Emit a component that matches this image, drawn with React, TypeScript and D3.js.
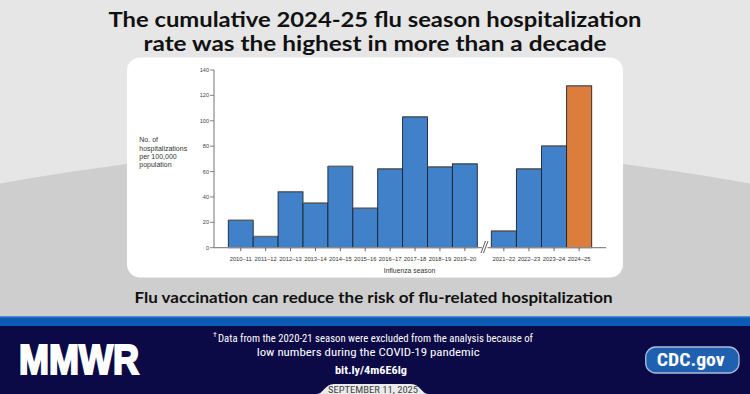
import React from "react";
import * as d3 from "d3";

const seasonsA = ["2010–11", "2011–12", "2012–13", "2013–14", "2014–15", "2015–16", "2016–17", "2017–18", "2018–19", "2019–20"];
const valuesA = [21.5, 8.7, 44, 35, 64, 31, 62, 103, 63.5, 66];
const seasonsB = ["2021–22", "2022–23", "2023–24", "2024–25"];
const valuesB = [13, 62, 80, 127.5];
const highlightSeason = "2024–25";
const yTicks = [0, 20, 40, 60, 80, 100, 120, 140];
const yLabelLines = ["No. of", "hospitalizations", "per 100,000", "population"];
const titleLines = ["The cumulative 2024-25 flu season hospitalization", "rate was the highest in more than a decade"];
const subtitle = "Flu vaccination can reduce the risk of flu-related hospitalization";
const footnoteLines = ["Data from the 2020-21 season were excluded from the analysis because of", "low numbers during the COVID-19 pandemic"];

const W = 750, H = 394;
const BLUE = "#4181c9";
const ORANGE = "#dc7d3b";

export default function App() {
  const y = d3.scaleLinear().domain([0, 140]).range([247.7, 70]);
  const xA = d3.scaleBand<string>().domain(seasonsA).range([228.3, 477.3]).paddingInner(0);
  const xB = d3.scaleBand<string>().domain(seasonsB).range([491.3, 591.7]).paddingInner(0);
  const bars = [
    ...seasonsA.map((s, i) => ({ s, v: valuesA[i], x: xA(s)!, w: xA.bandwidth() })),
    ...seasonsB.map((s, i) => ({ s, v: valuesB[i], x: xB(s)!, w: xB.bandwidth() })),
  ];
  const axisY = y(0);
  const axisX0 = 214;
  const axisX1 = 606;
  const breakX = 484.5;
  const sans = "'Liberation Sans', Arial, sans-serif";
  const head = "Lato, 'Noto Sans', sans-serif";
  const narrow = "'Liberation Sans Narrow', 'Roboto Condensed', Roboto, sans-serif";

  return (
    <svg width={W} height={H} viewBox={`0 0 ${W} ${H}`} style={{ position: "absolute", left: 0, top: 0, display: "block" }}>
      <defs>
        <clipPath id="bgclip"><rect x={0} y={0} width={W} height={317} /></clipPath>
      </defs>
      {/* background */}
      <rect x={0} y={0} width={W} height={H} fill="#e6e6e6" />
      <g clipPath="url(#bgclip)">
        <circle cx={375} cy={149 + 2049} r={2049} fill="#cecece" />
      </g>
      {/* title */}
      {titleLines.map((t, i) => (
        <text key={t} x={375} y={27.4 + i * 23.5} textAnchor="middle" fontFamily={head} fontWeight={700} fontSize={21.5} fill="#111"
          textLength={i === 0 ? 533 : 463} lengthAdjust="spacingAndGlyphs">{t}</text>
      ))}
      {/* card */}
      <rect x={127} y={57.5} width={496} height={220} rx={13} fill="#ffffff" />

      {/* y axis */}
      <line x1={axisX0} x2={axisX0} y1={y(140)} y2={axisY} stroke="#8a8a8a" strokeWidth={1.2} />
      {yTicks.map((t) => (
        <g key={t}>
          <line x1={210} x2={axisX0} y1={y(t)} y2={y(t)} stroke="#666" strokeWidth={0.8} />
          <text x={209} y={y(t) + 2} textAnchor="end" fontFamily={sans} fontSize={5.6} fill="#444">{t}</text>
        </g>
      ))}
      {yLabelLines.map((l, i) => (
        <text key={l} x={139.3} y={142.3 + i * 8.3} fontFamily={sans} fontSize={7} fill="#333">{l}</text>
      ))}

      {/* bars */}
      {bars.map((b) => (
        <g key={b.s}>
          <rect x={b.x} y={y(b.v)} width={b.w} height={axisY - y(b.v)} fill={b.s === highlightSeason ? ORANGE : BLUE} stroke="#1d2330" strokeWidth={0.9} />
          <line x1={b.x} x2={b.x + b.w} y1={y(b.v) - 0.3} y2={y(b.v) - 0.3} stroke="#6d6d6d" strokeWidth={1.2} />
        </g>
      ))}

      {/* x axis */}
      <line x1={axisX0} x2={breakX - 2.5} y1={axisY} y2={axisY} stroke="#8a8a8a" strokeWidth={1.2} />
      <line x1={breakX + 3} x2={axisX1} y1={axisY} y2={axisY} stroke="#8a8a8a" strokeWidth={1.2} />
      <line x1={breakX - 3.5} x2={breakX + 1} y1={253} y2={241} stroke="#333" strokeWidth={0.8} />
      <line x1={breakX - 1} x2={breakX + 3.5} y1={253} y2={241} stroke="#333" strokeWidth={0.8} />
      {bars.map((b) => (
        <g key={"t" + b.s}>
          <line x1={b.x + b.w / 2} x2={b.x + b.w / 2} y1={axisY} y2={axisY + 3.5} stroke="#444" strokeWidth={0.8} />
          <text x={b.x + b.w / 2} y={260.7} textAnchor="middle" fontFamily={sans} fontSize={5.8} fill="#333">{b.s}</text>
        </g>
      ))}
      <text x={409.5} y={273.3} textAnchor="middle" fontFamily={sans} fontSize={6.8} fill="#333">Influenza season</text>

      {/* subtitle */}
      <text x={373.5} y={303} textAnchor="middle" fontFamily={head} fontWeight={700} fontSize={16} fill="#111"
        textLength={478} lengthAdjust="spacingAndGlyphs">{subtitle}</text>

      {/* footer */}
      <rect x={0} y={316.5} width={W} height={10} fill="#0a5cb6" />
      <rect x={0} y={316.5} width={W} height={1} fill="#3f7fcf" />
      <rect x={0} y={326} width={W} height={H - 326} fill="#0b0a47" />
      <text x={19} y={373.5} fontFamily={sans} fontWeight={900} fontSize={42} fill="#ffffff" stroke="#ffffff" strokeWidth={2.2} strokeLinejoin="miter"
        textLength={120} lengthAdjust="spacingAndGlyphs">MMWR</text>

      <text x={213} y={337} fontFamily={narrow} fontSize={8} fill="#ffffff">†</text>
      <text x={218} y={341.5} fontFamily={narrow} fontSize={11.5} fill="#ffffff" textLength={315} lengthAdjust="spacingAndGlyphs">{footnoteLines[0]}</text>
      <text x={256.7} y={355.5} fontFamily={narrow} fontSize={11.5} fill="#ffffff" textLength={223} lengthAdjust="spacingAndGlyphs">{footnoteLines[1]}</text>
      <text x={335} y={373.5} fontFamily={narrow} fontWeight={700} fontSize={11} fill="#ffffff" textLength={72} lengthAdjust="spacingAndGlyphs">bit.ly/4m6E6lg</text>

      <path d="M317,394 C323,394 325,384 334,384 L411,384 C420,384 422,394 428,394 Z" fill="#ebebeb" />
      <text x={328} y={392.5} fontFamily={narrow} fontSize={9.5} fill="#444" textLength={90} lengthAdjust="spacingAndGlyphs">SEPTEMBER 11, 2025</text>

      <rect x={645.7} y={347} width={93.3} height={26} rx={10} fill="#1f61b0" stroke="#a9bddb" strokeWidth={1.3} />
      <text x={656.7} y={366} fontFamily={narrow} fontWeight={700} fontSize={19} fill="#ffffff" textLength={68} lengthAdjust="spacingAndGlyphs">CDC.gov</text>
    </svg>
  );
}
